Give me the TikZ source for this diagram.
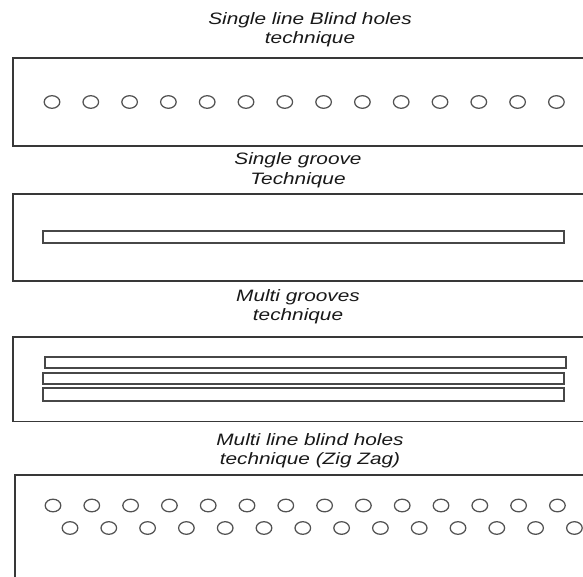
\documentclass[tikz,border=0pt]{standalone}
\usepackage{fontspec}
\setmainfont{Liberation Sans}
\tikzset{
  plate/.style={draw=black!78, line width=1.4pt},
  groove/.style={draw=black!72, line width=1.5pt, fill=white},
  hole/.style={draw=black!68, line width=1.25pt},
  title/.style={anchor=base, inner sep=0pt, text=black!90,
    font=\fontsize{16.5}{19.5}\selectfont\itshape},
}
\newcommand{\ttl}[2]{\scalebox{1.26}[1]{\begin{tabular}[t]{@{}c@{}}#1\\#2\end{tabular}}}
\begin{document}
\begin{tikzpicture}[x=1pt,y=-1pt]
\useasboundingbox (0,0) rectangle (583,577);
\fill[white] (0,0) rectangle (583,577);
\clip (0,0) rectangle (583,577);

% Panel 1: single line blind holes
\node[title] (t1) at (310,24.5) {\ttl{Single line Blind holes}{technique}};
\draw[plate] (590,58) -- (13,58) -- (13,146) -- (590,146);
\foreach \i in {0,...,13}
  \draw[hole] ({52+38.8*\i},102) ellipse [x radius=7.8pt, y radius=6.3pt];

% Panel 2: single groove
\node[title] (t2) at (298,165) {\ttl{Single groove}{Technique}};
\draw[plate] (590,194) -- (13,194) -- (13,281) -- (590,281);
\draw[groove] (43,231) rectangle (564,243);

% Panel 3: multi grooves
\node[title] (t3) at (298,301) {\ttl{Multi grooves}{technique}};
\draw[plate] (590,337) -- (13,337) -- (13,421.5) -- (590,421.5);
\draw[groove] (45,357) rectangle (566,368);
\draw[groove] (43,373) rectangle (564,384);
\draw[groove] (43,388) rectangle (564,401);

% Panel 4: multi line blind holes (zig zag)
\node[title] (t4) at (310,445) {\ttl{Multi line blind holes}{technique (Zig Zag)}};
\draw[plate] (590,475) -- (15,475) -- (15,590);
\foreach \i in {0,...,13} {
  \draw[hole] ({53+38.8*\i},505.5) ellipse [x radius=7.8pt, y radius=6.3pt];
  \draw[hole] ({70+38.8*\i},528) ellipse [x radius=7.8pt, y radius=6.3pt];
}
\end{tikzpicture}
\end{document}
